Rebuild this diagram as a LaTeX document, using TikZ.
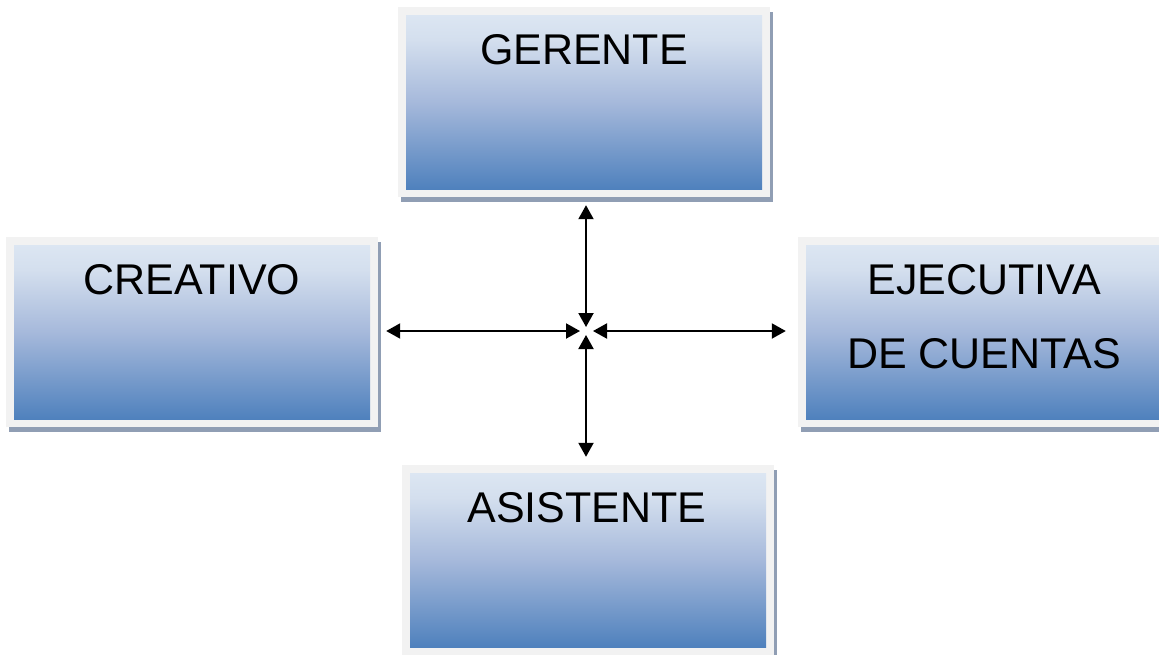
\documentclass[tikz,border=0pt]{standalone}
\usepackage{fontspec}
\setmainfont{Liberation Sans}
\usetikzlibrary{arrows.meta}
\definecolor{boxbg}{HTML}{F2F2F2}
\definecolor{shadowc}{HTML}{909EB4}
\definecolor{gtop}{HTML}{DCE6F2}
\definecolor{gtop2}{HTML}{D4DFEE}
\definecolor{gmid}{HTML}{A6B9DB}
\definecolor{gbot}{HTML}{4F81BD}
\pgfdeclareverticalshading{boxgrad}{100bp}{color(0bp)=(gbot); color(25bp)=(gbot); color(50bp)=(gmid); color(68bp)=(gtop2); color(75bp)=(gtop); color(100bp)=(gtop)}
\tikzset{
  outerbox/.style={rectangle, fill=boxbg, draw=none, inner sep=0pt, minimum width=372pt, minimum height=190pt},
  shadowbox/.style={fill=shadowc},
  innerbox/.style={shading=boxgrad},
  boxlabel/.style={anchor=base, font=\fontsize{43}{74}\selectfont, inner sep=0pt, align=center},
  link/.style={line width=2pt, {Triangle[length=14pt,width=15pt]}-{Triangle[length=14pt,width=15pt]}}
}
\begin{document}
\begin{tikzpicture}[x=1pt,y=-1pt]
\useasboundingbox (0,0) rectangle (1159,654);
\clip (0,0) rectangle (1159,654);
% GERENTE
\fill[shadowbox] (401,12) rectangle (773,201.5);
\node[outerbox] (ger) at (584,102) {};
\shade[innerbox] (406,15) rectangle (762,189);
\node[boxlabel] (gert) at (584,64) {GERENTE};
% CREATIVO
\fill[shadowbox] (9,242) rectangle (381,431.5);
\node[outerbox] (cre) at (192,332) {};
\shade[innerbox] (14,245) rectangle (370,419);
\node[boxlabel] (cret) at (192,294) {CREATIVO};
% EJECUTIVA
\fill[shadowbox] (801,242) rectangle (1173,431.5);
\node[outerbox] (eje) at (984,332) {};
\shade[innerbox] (806,245) rectangle (1162,419);
\node[boxlabel] (ejet) at (984,368) {EJECUTIVA\\DE CUENTAS};
% ASISTENTE
\fill[shadowbox] (405,470) rectangle (777,659.5);
\node[outerbox] (asi) at (588,560) {};
\shade[innerbox] (410,473) rectangle (766,647);
\node[boxlabel] (asit) at (587,522) {ASISTENTE};
% connectors
\coordinate (c) at (586,331);
\draw[link, shorten <=8pt, shorten >=4pt] (ger.south -| c) -- (c);
\draw[link, shorten <=8pt, shorten >=6pt] (cre.east |- c) -- (c);
\draw[link, shorten <=12pt, shorten >=7pt] (eje.west |- c) -- (c);
\draw[link, shorten <=8pt, shorten >=4pt] (asi.north -| c) -- (c);
\end{tikzpicture}
\end{document}
